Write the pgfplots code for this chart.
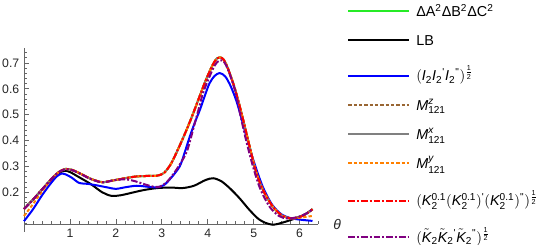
\documentclass[border=0pt]{standalone}
\usepackage{fontspec}
\setmainfont{Liberation Sans}
\usepackage{amsmath}
\usepackage{pgfplots}
\pgfplotsset{compat=1.18}
\definecolor{mgreen}{rgb}{0.15,0.92,0.15}
\definecolor{mbrown}{rgb}{0.6,0.4,0.2}
\definecolor{mgray}{rgb}{0.5,0.5,0.5}
\definecolor{morange}{rgb}{1,0.5,0}
\definecolor{mred}{rgb}{1,0,0}
\definecolor{mpurple}{rgb}{0.5,0,0.5}
\definecolor{mblue}{rgb}{0,0,1}
\newcommand{\half}{\frac{\text{1}}{\text{2}}}
\newcommand{\pr}{\text{\textquotesingle}}
\newcommand{\dpr}{\text{\textquotedbl}}
\begin{document}
\begin{tikzpicture}
\useasboundingbox (0,0) rectangle (408.75pt,183.75pt);
\begin{axis}[
  at={(18pt,15.75pt)}, anchor=south west,
  scale only axis, width=220.5pt, height=132pt,
  xmin=0, xmax=6.4, ymin=0.077, ymax=0.758,
  axis lines=left,
  axis line style={-, black!60, line width=0.5pt},
  xtick={1,2,3,4,5,6},
  ytick={0.2,0.3,0.4,0.5,0.6,0.7},
  minor xtick={0,0.2,...,6.4},
  minor ytick={0.08,0.1,...,0.75},
  tick align=inside,
  major tick length=4pt, minor tick length=2pt,
  tick style={black!60, line width=0.5pt},
  ticklabel style={font=\fontsize{9.2}{11}\selectfont, text=black!85},
  /pgf/number format/assume math mode=true,
  yticklabel style={/pgf/number format/fixed, /pgf/number format/precision=1, /pgf/number format/fixed zerofill},
  xlabel={\textit{θ}},
  xlabel style={at={(axis description cs:1,0)}, anchor=west, xshift=8pt, text=black!85, font=\fontsize{10.5}{12}\selectfont},
  clip=false,
  legend cell align=left,
  legend style={draw=none, fill=none, at={(axis description cs:1.0986,1.289)}, anchor=north west,
    inner sep=0pt, row sep=4.55pt, font=\fontsize{10.8}{13}\selectfont,
    nodes={inner sep=0pt, text depth=3.2pt, text height=14.2pt}, cells={anchor=base west}},
  legend image code/.code={\draw[#1] (0pt,3.9pt) -- (45.75pt,3.9pt);},
  every axis plot/.append style={line width=1.5pt, smooth, tension=0.5},
]
\addplot[mgreen] coordinates {(0,0.135) (0.2,0.172) (0.4,0.212) (0.6,0.252) (0.75,0.277) (0.9,0.290) (1.05,0.286) (1.25,0.270) (1.45,0.252) (1.7,0.239) (1.95,0.246) (2.2,0.254) (2.45,0.261) (2.7,0.263) (2.9,0.264) (3.05,0.275) (3.2,0.31) (3.35,0.365) (3.5,0.425) (3.65,0.49) (3.8,0.56) (3.95,0.63) (4.1,0.69) (4.2,0.718) (4.27,0.722) (4.35,0.712) (4.45,0.674) (4.6,0.595) (4.75,0.495) (4.9,0.385) (5.05,0.28) (5.2,0.21) (5.4,0.148) (5.6,0.112) (5.8,0.099) (6.0,0.104) (6.15,0.117) (6.28,0.134)};
\addlegendentry{\hspace{4.5pt}ΔA\textsuperscript{2}ΔB\textsuperscript{2}ΔC\textsuperscript{2}}
\addplot[black] coordinates {(0,0.135) (0.2,0.172) (0.4,0.212) (0.6,0.25) (0.75,0.273) (0.88,0.283) (1.0,0.278) (1.2,0.258) (1.45,0.232) (1.7,0.2) (1.9,0.186) (2.1,0.188) (2.35,0.198) (2.6,0.208) (2.9,0.216) (3.2,0.218) (3.45,0.216) (3.7,0.225) (3.95,0.247) (4.12,0.254) (4.3,0.242) (4.5,0.212) (4.7,0.175) (4.9,0.133) (5.1,0.097) (5.25,0.082) (5.42,0.074) (5.6,0.081) (5.8,0.092) (6.0,0.105) (6.15,0.118) (6.28,0.134)};
\addlegendentry{\hspace{4.5pt}LB}
\addplot[mblue] coordinates {(0,0.088) (0.2,0.135) (0.4,0.19) (0.6,0.238) (0.72,0.262) (0.82,0.272) (0.92,0.268) (1.05,0.255) (1.2,0.236) (1.4,0.232) (1.6,0.226) (1.8,0.219) (2.0,0.213) (2.2,0.219) (2.45,0.225) (2.7,0.221) (2.9,0.219) (3.05,0.228) (3.2,0.255) (3.39,0.30) (3.5,0.355) (3.61,0.416) (3.72,0.47) (3.83,0.519) (3.94,0.575) (4.04,0.622) (4.15,0.65) (4.26,0.661) (4.38,0.648) (4.5,0.61) (4.62,0.555) (4.72,0.495) (4.85,0.41) (5.0,0.32) (5.2,0.22) (5.4,0.152) (5.6,0.115) (5.8,0.1) (6.0,0.094) (6.28,0.089)};
\addlegendentry[text height=18.7pt]{\hspace{4.5pt}$(\textit{I}_{\text{2}}\textit{I}_{\text{2}}{}^{\pr}\textit{I}_{\text{2}}{}^{\dpr})^{\half}$}
\addplot[mbrown, dash pattern=on 2.5pt off 1.5pt] coordinates {(0,0.135) (0.2,0.172) (0.4,0.212) (0.6,0.252) (0.75,0.277) (0.9,0.290) (1.05,0.286) (1.25,0.270) (1.45,0.252) (1.7,0.239) (1.95,0.246) (2.2,0.254) (2.45,0.261) (2.7,0.263) (2.9,0.264) (3.05,0.275) (3.2,0.31) (3.35,0.365) (3.5,0.425) (3.65,0.49) (3.8,0.56) (3.95,0.63) (4.1,0.69) (4.2,0.718) (4.27,0.722) (4.35,0.712) (4.45,0.674) (4.6,0.595) (4.75,0.495) (4.9,0.385) (5.05,0.28) (5.2,0.21) (5.4,0.148) (5.6,0.112) (5.8,0.099) (6.0,0.104) (6.15,0.117) (6.28,0.134)};
\addlegendentry{\hspace{4.5pt}$\textit{M}^{\textit{z}}_{\text{121}}$}
\addplot[mgray] coordinates {(0,0.135) (0.2,0.172) (0.4,0.212) (0.6,0.252) (0.75,0.277) (0.9,0.290) (1.05,0.286) (1.25,0.270) (1.45,0.252) (1.7,0.239) (1.95,0.246) (2.2,0.254) (2.45,0.261) (2.7,0.263) (2.9,0.264) (3.05,0.275) (3.2,0.31) (3.35,0.365) (3.5,0.425) (3.65,0.49) (3.8,0.56) (3.95,0.63) (4.1,0.69) (4.2,0.718) (4.27,0.722) (4.35,0.712) (4.45,0.674) (4.6,0.595) (4.75,0.495) (4.9,0.385) (5.05,0.28) (5.2,0.21) (5.4,0.148) (5.6,0.112) (5.8,0.099) (6.0,0.104) (6.15,0.117) (6.28,0.134)};
\addlegendentry{\hspace{4.5pt}$\textit{M}^{\textit{x}}_{\text{121}}$}
\addplot[morange, dash pattern=on 2.5pt off 1.5pt] coordinates {(0,0.108) (0.2,0.155) (0.4,0.205) (0.6,0.252) (0.75,0.277) (0.9,0.290) (1.05,0.286) (1.25,0.270) (1.45,0.252) (1.7,0.239) (1.95,0.246) (2.2,0.254) (2.45,0.261) (2.7,0.263) (2.9,0.264) (3.05,0.275) (3.2,0.31) (3.35,0.365) (3.5,0.425) (3.65,0.49) (3.8,0.56) (3.95,0.63) (4.1,0.69) (4.2,0.718) (4.27,0.722) (4.35,0.712) (4.45,0.674) (4.6,0.595) (4.75,0.495) (4.9,0.385) (5.05,0.28) (5.2,0.21) (5.4,0.148) (5.6,0.112) (5.8,0.099) (6.0,0.101) (6.15,0.105) (6.28,0.108)};
\addlegendentry{\hspace{4.5pt}$\textit{M}^{\textit{y}}_{\text{121}}$}
\addplot[mred, dash pattern=on 5pt off 1.5pt on 1.5pt off 1.5pt] coordinates {(0,0.135) (0.2,0.172) (0.4,0.212) (0.6,0.252) (0.75,0.277) (0.9,0.290) (1.05,0.286) (1.25,0.270) (1.45,0.252) (1.7,0.239) (1.95,0.246) (2.2,0.254) (2.45,0.261) (2.7,0.263) (2.9,0.264) (3.05,0.275) (3.2,0.31) (3.35,0.365) (3.5,0.425) (3.65,0.49) (3.8,0.56) (3.95,0.63) (4.1,0.69) (4.2,0.718) (4.27,0.722) (4.35,0.712) (4.45,0.674) (4.6,0.595) (4.75,0.495) (4.9,0.385) (5.05,0.28) (5.2,0.21) (5.4,0.148) (5.6,0.112) (5.8,0.099) (6.0,0.104) (6.15,0.117) (6.28,0.134)};
\addlegendentry[text height=20.2pt]{\hspace{4.5pt}$(\textit{K}^{\text{0.1}}_{\text{2}}(\textit{K}^{\text{0.1}}_{\text{2}})^{\pr}(\textit{K}^{\text{0.1}}_{\text{2}})^{\dpr})^{\half}$}
\addplot[mpurple, dash pattern=on 5pt off 1.5pt on 1.5pt off 1.5pt] coordinates {(0,0.135) (0.2,0.172) (0.4,0.212) (0.6,0.252) (0.75,0.277) (0.9,0.289) (1.05,0.285) (1.25,0.269) (1.45,0.251) (1.7,0.238) (1.95,0.246) (2.2,0.25) (2.41,0.243) (2.6,0.232) (2.8,0.222) (2.95,0.221) (3.1,0.238) (3.25,0.27) (3.4,0.31) (3.55,0.36) (3.7,0.455) (3.8,0.52) (3.9,0.585) (4.04,0.648) (4.15,0.69) (4.25,0.71) (4.35,0.705) (4.45,0.67) (4.6,0.59) (4.72,0.49) (4.85,0.39) (5.0,0.29) (5.15,0.21) (5.35,0.143) (5.55,0.108) (5.75,0.098) (6.0,0.106) (6.15,0.118) (6.28,0.134)};
\addlegendentry[text height=19.45pt]{\hspace{4.5pt}$(\tilde{\textit{K}}_{\text{2}}\tilde{\textit{K}}_{\text{2}}{}^{\pr}\tilde{\textit{K}}_{\text{2}}{}^{\dpr})^{\half}$}
\draw[black!60, line width=0.5pt] (axis cs:0,0.077) -- (axis cs:0,0.047);
\end{axis}
\end{tikzpicture}
\end{document}
